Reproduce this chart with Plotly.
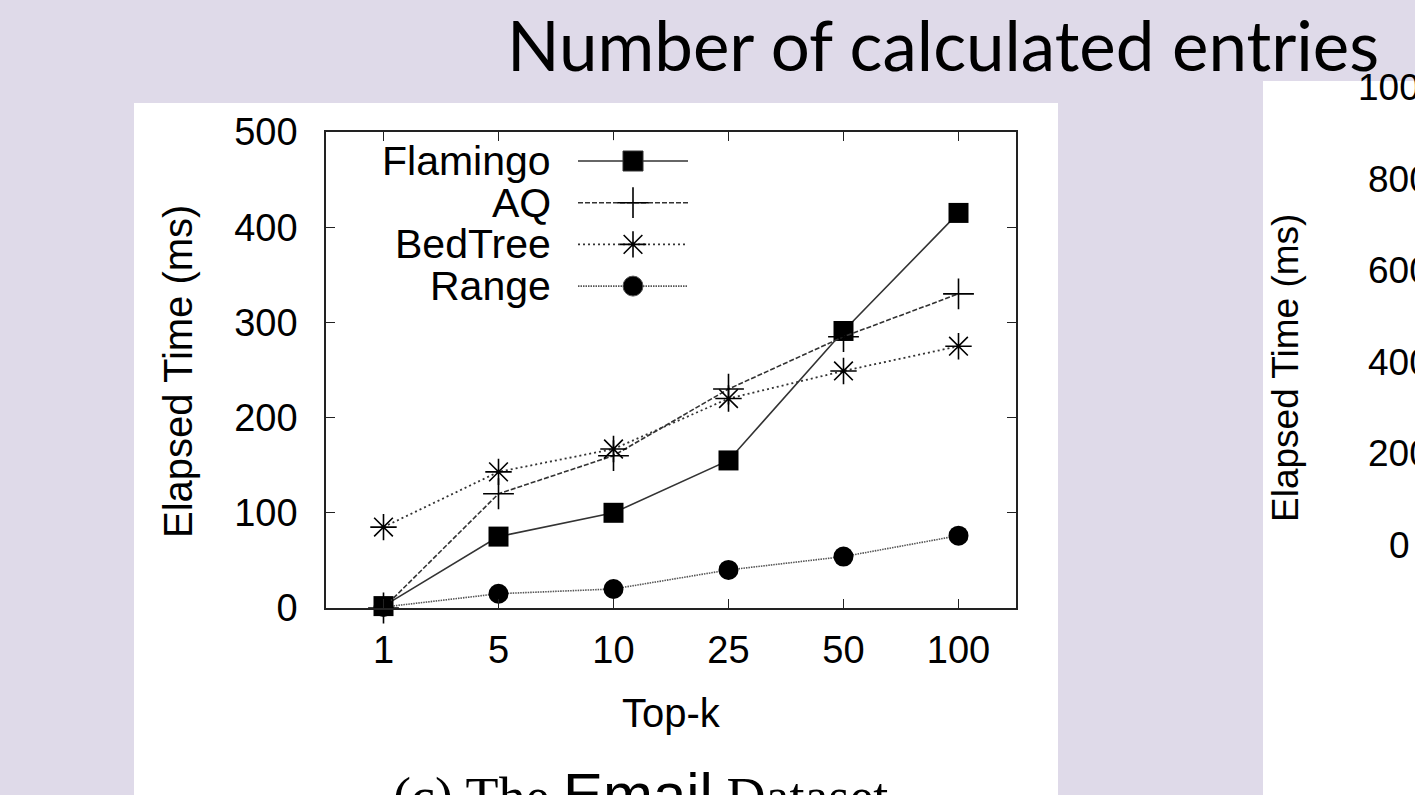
import plotly.graph_objects as go

W, H = 1415, 795

# ---- data ----
topk = ["1", "5", "10", "25", "50", "100"]
flamingo = [2, 75, 100, 155, 291, 415]
aq = [0, 120, 160, 230, 285, 330]
bedtree = [85, 143, 167, 220, 249, 275]
range_ = [1, 15, 20, 40, 54, 76]
series_names = ["Flamingo", "AQ", "BedTree", "Range"]
y_ticks = [0, 100, 200, 300, 400, 500]
right_ticks = ["1000", "800", "600", "400", "200", "0"]

# ---- styles ----
BG = "#DFDAE9"
FONT = "Liberation Sans, Arial, sans-serif"
styles = {
    "Flamingo": dict(line=dict(color="#333333", width=1.6, dash="solid"),
                     marker=dict(symbol="square", size=20, color="black", opacity=1)),
    "AQ": dict(line=dict(color="#333333", width=1.6, dash="5px,2px"),
               marker=dict(symbol="cross-thin", size=22, color="black", opacity=1,
                           line=dict(color="black", width=1.6))),
    "BedTree": dict(line=dict(color="#333333", width=1.8, dash="2px,3px"),
                    marker=dict(symbol="asterisk", size=22, color="black", opacity=1,
                                line=dict(color="black", width=1.6))),
    "Range": dict(line=dict(color="#555555", width=1.6, dash="1.5px,1px"),
                  marker=dict(symbol="circle", size=20, color="black", opacity=1)),
}
values = {"Flamingo": flamingo, "AQ": aq, "BedTree": bedtree, "Range": range_}

def px_x(p):
    return p / W

def px_y(p):
    return 1 - p / H

fig = go.Figure()

for name in series_names:
    st = styles[name]
    fig.add_trace(go.Scatter(
        x=topk, y=values[name], mode="lines+markers", name=name,
        line=st["line"], marker=st["marker"], cliponaxis=False,
        showlegend=False, xaxis="x", yaxis="y"))

# legend keys (drawn on an overlay axis placed in the legend area)
for i, name in enumerate(series_names):
    st = styles[name]
    mk = dict(st["marker"])
    mk["size"] = [0, st["marker"]["size"], 0]
    fig.add_trace(go.Scatter(
        x=[0, 0.5, 1], y=[i, i, i], mode="lines+markers",
        line=st["line"], marker=mk, cliponaxis=False,
        showlegend=False, hoverinfo="skip", xaxis="x2", yaxis="y2"))

row_top, row_step = 161, 41.7

annotations = []
for i, name in enumerate(series_names):
    annotations.append(dict(
        text=name, x=px_x(553), y=px_y(row_top + i * row_step),
        xref="paper", yref="paper", xanchor="right", yanchor="middle",
        showarrow=False, font=dict(family=FONT, size=41, color="black")))

# axis titles
annotations.append(dict(
    text="Top-k", x=px_x(671), y=px_y(713), xref="paper", yref="paper",
    xanchor="center", yanchor="middle", showarrow=False,
    font=dict(family=FONT, size=40, color="black")))
annotations.append(dict(
    text="Elapsed Time (ms)", x=px_x(178), y=px_y(372), xref="paper", yref="paper",
    xanchor="center", yanchor="middle", textangle=-90, showarrow=False,
    font=dict(family=FONT, size=40, color="black")))

# caption (cut by the bottom edge)
annotations.append(dict(
    text='(c) The <span style="font-family:Liberation Sans, Arial;font-size:60px">Email</span> Dataset',
    x=px_x(640), y=px_y(759), xref="paper", yref="paper",
    xanchor="center", yanchor="top", showarrow=False,
    font=dict(family="Liberation Serif, Times New Roman, serif", size=54, color="black")))

# slide title
annotations.append(dict(
    text="Number of calculated entries", x=px_x(505), y=px_y(45), xref="paper", yref="paper",
    xanchor="left", yanchor="middle", showarrow=False,
    font=dict(family="Lato, Open Sans, sans-serif", size=69, color="black")))

# right, partially visible panel
for i, t in enumerate(right_ticks):
    annotations.append(dict(
        text=t, x=px_x(1399), y=px_y(88 + i * 91.4), xref="paper", yref="paper",
        xanchor="center", yanchor="middle", showarrow=False,
        font=dict(family=FONT, size=37, color="black")))
annotations.append(dict(
    text="Elapsed Time (ms)", x=px_x(1285), y=px_y(368), xref="paper", yref="paper",
    xanchor="center", yanchor="middle", textangle=-90, showarrow=False,
    font=dict(family=FONT, size=37, color="black")))

shapes = [
    dict(type="rect", xref="paper", yref="paper", x0=px_x(134), x1=px_x(1058),
         y0=-0.01, y1=px_y(103), fillcolor="white", line=dict(width=0), layer="below"),
    dict(type="rect", xref="paper", yref="paper", x0=px_x(1263), x1=1.01,
         y0=-0.01, y1=px_y(81), fillcolor="white", line=dict(width=0), layer="below"),
]

axis_common = dict(
    showline=True, linecolor="#222222", linewidth=1.5, mirror="ticks",
    ticks="inside", ticklen=9, tickwidth=1.3, tickcolor="#222222",
    showgrid=False, zeroline=False, automargin=False,
    tickfont=dict(family=FONT, size=38, color="black"),
)

fig.update_layout(
    template="none",
    width=W, height=H, autosize=False,
    margin=dict(l=0, r=0, t=0, b=0, pad=0),
    paper_bgcolor=BG, plot_bgcolor="white",
    xaxis=dict(domain=[px_x(326), px_x(1016)], type="category",
               categoryorder="array", categoryarray=topk, range=[-0.5, 5.5],
               ticklabelstandoff=8, **axis_common),
    yaxis=dict(domain=[px_y(608), px_y(132)], range=[0, 500],
               tickvals=y_ticks, ticklabelstandoff=19, **axis_common),
    xaxis2=dict(domain=[px_x(578), px_x(688)], range=[0, 1], visible=False,
                anchor="y2", fixedrange=True, automargin=False),
    yaxis2=dict(domain=[px_y(row_top + 3.5 * row_step), px_y(row_top - 0.5 * row_step)],
                range=[3.5, -0.5], visible=False, anchor="x2", fixedrange=True,
                automargin=False),
    annotations=annotations, shapes=shapes, showlegend=False,
)

fig.write_html(
    "out.html",
    config={"displayModeBar": False},
    post_script="document.body.style.margin='0';document.body.style.overflow='hidden';",
)
